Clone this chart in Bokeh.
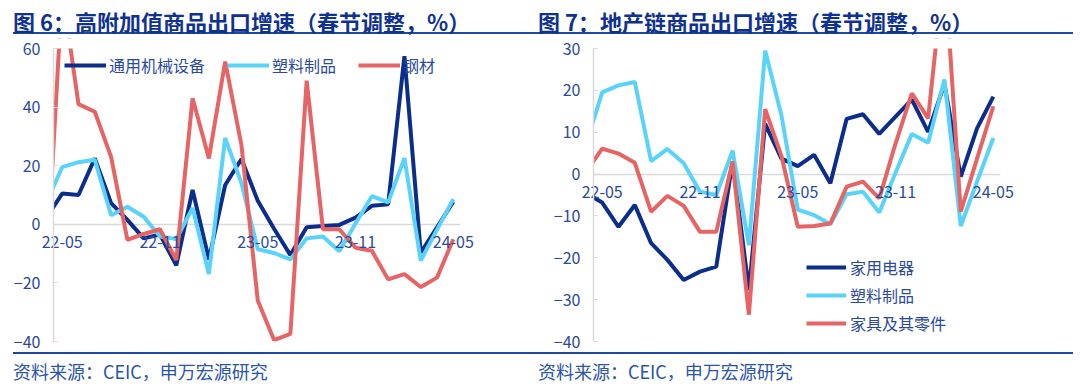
from bokeh.plotting import figure
from bokeh.models import (Range1d, FixedTicker, Legend, LegendItem, Div, LinearAxis,
                          BoxAnnotation)
from bokeh.layouts import row, column
from bokeh.embed import file_html
from bokeh.resources import INLINE

months = ["22-04", "22-05", "22-06", "22-07", "22-08", "22-09", "22-10", "22-11", "22-12",
          "23-01", "23-02", "23-03", "23-04", "23-05", "23-06", "23-07", "23-08", "23-09",
          "23-10", "23-11", "23-12", "24-01", "24-02", "24-03", "24-04", "24-05"]
tick_months = ["22-05", "22-11", "23-05", "23-11", "24-05"]

# Chart 6
machinery = [2, 10.5, 10, 22.5, 7.2, 1.5, -4.8, -3.5, -14, 11.7, -12, 13.4, 22.3,
             8, -1.5, -10.5, -1, -0.6, -0.2, 2.3, 6.3, 6.8, 57.4, -9.7, -1, 7.7]
plastics = [7, 19.5, 21.2, 22, 3.1, 6, 2.6, -4.2, -5, 5.6, -17, 29.5, 14,
            -8.5, -9.8, -12, -4.8, -4.2, -9.2, 0.3, 9.6, 7.5, 22.6, -12.4, -1.8, 8.6]
steel = [-20, 80, 41, 38.4, 23, -5.3, -3.3, -1.7, -12.2, 43, 22.5, 55.5, 27,
         -26, -39.5, -37.4, 49, -1.7, -1.7, -8, -9, -18.8, -17, -21.4, -18.2, -5.1]

# Chart 7
appliances = [-4.6, -6.8, -12.6, -7.4, -16.5, -20.5, -25.3, -23.3, -22.1, 3, -27.7, 12, 3.7,
              1.9, 4.6, -2.2, 13.2, 14.3, 9.6, 13.7, 17.8, 10.1, 21.5, -0.6, 10.9, 18.5]
furniture = [0.5, 6.1, 4.9, 2.7, -9, -5.2, -7.6, -13.8, -13.8, 3, -33.6, 15.5, 4.3,
             -12.6, -12.4, -11.8, -3, -1.8, -5.8, 7.3, 19.3, 13.3, 50, -9, 3.7, 16.2]

title6 = "图 6：高附加值商品出口增速（春节调整，%）"
title7 = "图 7：地产链商品出口增速（春节调整，%）"
source = "资料来源：CEIC，申万宏源研究"

BLUE = "#0B2D8C"
CYAN = "#5AD3FA"
RED = "#E66464"
TXT = "#2A4A9C"
GRAY = "#D9D9D9"
FONT = "Noto Sans CJK SC"

xs = list(range(len(months)))

X0, X1 = 0.466, 25.44      # visible category window (axis to axis)
PLOT_W = 407               # pixel width of that window
PLOT_H = 293               # pixel height of the value window
PAD_V = 10                 # extra frame room above/below for tick labels


def base_fig(y0, y1, yticks, pad_left, pad_right):
    ppx = PLOT_W / (X1 - X0)
    ppy = PLOT_H / (y1 - y0)
    p = figure(frame_width=PLOT_W + pad_left + pad_right, frame_height=PLOT_H + 2 * PAD_V,
               x_range=Range1d(X0 - pad_left / ppx, X1 + pad_right / ppx),
               y_range=Range1d(y0 - PAD_V / ppy, y1 + PAD_V / ppy),
               output_backend="svg", toolbar_location=None,
               min_border_left=0, min_border_right=0,
               min_border_top=12 - PAD_V, min_border_bottom=11 - PAD_V)
    p.outline_line_color = None
    p.grid.visible = False
    p.background_fill_color = "white"
    p.border_fill_color = "white"

    ya = p.yaxis[0]
    ya.fixed_location = X0
    ya.bounds = (y0, y1)
    ya.ticker = FixedTicker(ticks=yticks)
    ya.axis_line_color = GRAY
    ya.axis_line_width = 1.5
    ya.major_tick_line_color = GRAY
    ya.major_tick_in = 4
    ya.major_tick_out = 0
    ya.minor_tick_line_color = None
    ya.major_label_standoff = 13
    ya.major_label_text_font = FONT
    ya.major_label_text_font_size = "16px"
    ya.major_label_text_color = TXT
    ya.level = "overlay"

    ticks = [months.index(m) for m in tick_months]
    xa = p.xaxis[0]
    xa.fixed_location = 0
    xa.bounds = (X0, X1)
    xa.ticker = FixedTicker(ticks=ticks)
    xa.axis_line_color = GRAY
    xa.axis_line_width = 1.5
    xa.major_tick_line_color = None
    xa.minor_tick_line_color = None
    xa.major_label_text_color = None
    xa.level = "underlay"

    xl = LinearAxis(fixed_location=0, ticker=FixedTicker(ticks=ticks),
                    major_label_overrides={months.index(m): m for m in tick_months},
                    axis_line_color=None, major_tick_line_color=None,
                    minor_tick_line_color=None, major_label_standoff=6,
                    major_label_text_font=FONT, major_label_text_font_size="16px",
                    major_label_text_color=TXT, level="overlay")
    p.add_layout(xl, "below")

    # white masks outside the value window (clip the lines like the plot area)
    for kw in (dict(right=X0), dict(left=X1), dict(bottom=y1), dict(top=y0)):
        p.add_layout(BoxAnnotation(fill_color="white", fill_alpha=1, line_alpha=0,
                                   level="annotation", **kw))
    return p


# ---------- Figure 6 ----------
p1 = base_fig(-40, 60, [-40, -20, 0, 20, 40, 60], 40, 78)
r1 = p1.line(xs, machinery, line_color=BLUE, line_width=4)
r2 = p1.line(xs, plastics, line_color=CYAN, line_width=4)
r3 = p1.line(xs, steel, line_color=RED, line_width=4)
leg1 = Legend(items=[LegendItem(label="通用机械设备", renderers=[r1]),
                     LegendItem(label="塑料制品", renderers=[r2]),
                     LegendItem(label="钢材", renderers=[r3])],
              orientation="horizontal", location=(40 + 11, PAD_V + 264),
              padding=0, margin=0, spacing=22, label_standoff=3,
              glyph_width=42, glyph_height=20, label_height=20,
              label_text_font=FONT, label_text_font_size="16px",
              label_text_color=TXT, border_line_alpha=0, background_fill_alpha=0,
              level="overlay")
p1.add_layout(leg1)

# ---------- Figure 7 ----------
p2 = base_fig(-40, 30, [-40, -30, -20, -10, 0, 10, 20, 30], 55, 73)
s1 = p2.line(xs, appliances, line_color=BLUE, line_width=4)
s2 = p2.line(xs, plastics, line_color=CYAN, line_width=4)
s3 = p2.line(xs, furniture, line_color=RED, line_width=4)
leg2 = Legend(items=[LegendItem(label="家用电器", renderers=[s1]),
                     LegendItem(label="塑料制品", renderers=[s2]),
                     LegendItem(label="家具及其零件", renderers=[s3])],
              orientation="vertical", location=(55 + 213, PAD_V + 6),
              padding=0, margin=0, spacing=4, label_standoff=4,
              glyph_width=40, glyph_height=20, label_height=20,
              label_text_font=FONT, label_text_font_size="16px",
              label_text_color=TXT, border_line_alpha=0, background_fill_alpha=0,
              level="overlay")
p2.add_layout(leg2)


def title_div(text, w):
    html = ('<div style="font-family:\'Noto Sans CJK SC\';font-weight:bold;font-size:22px;'
            'color:#0F3290;line-height:26px;height:26px;white-space:nowrap;'
            'border-bottom:2.5px solid #1F47A6;width:%dpx;">%s</div>' % (w, text))
    return Div(text=html, width=w, height=28, margin=(0, 0, 0, 0))


def source_div(text, w):
    html = ('<div style="border-top:2.5px solid #1F47A6;width:%dpx;height:22px;overflow:visible;">'
            '<div style="position:relative;top:6px;font-family:\'Noto Sans CJK SC\';font-size:18px;'
            'color:#2A55A8;line-height:22px;white-space:nowrap;">%s</div></div>' % (w, text))
    return Div(text=html, width=w, height=24, margin=(0, 0, 0, 0))


left = column(title_div(title6, 525), p1, source_div(source, 525), spacing=0)
right = column(title_div(title7, 535), p2, source_div(source, 535), spacing=0)
layout = row(left, right, spacing=0, margin=(8, 0, 0, 13))

open("out.html", "w").write(file_html(layout, INLINE))
